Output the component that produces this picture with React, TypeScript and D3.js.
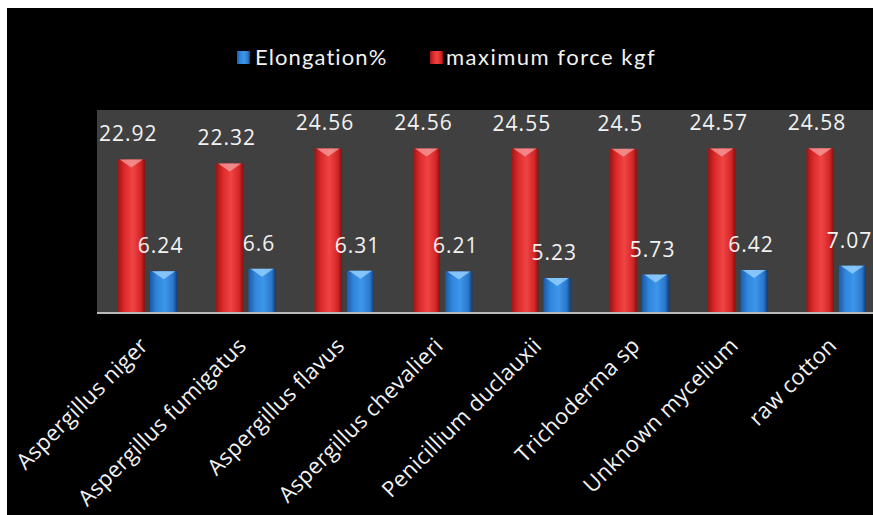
import React from "react";
import * as d3 from "d3";

const categories = [
  "Aspergillus niger",
  "Aspergillus fumigatus",
  "Aspergillus flavus",
  "Aspergillus chevalieri",
  "Penicillium duclauxii",
  "Trichoderma sp",
  "Unknown mycelium",
  "raw cotton",
];
const maxForce = [22.92, 22.32, 24.56, 24.56, 24.55, 24.5, 24.57, 24.58];
const elongation = [6.24, 6.6, 6.31, 6.21, 5.23, 5.73, 6.42, 7.07];
const seriesKeys = ["force", "elong"];

const W = 873;
const H = 515;
const plotLeft = 97;
const plotTop = 110;
const baseY = 313;
const step = 98.4;
const FONT = "'Open Sans', Lato, sans-serif";
const LEGEND_FONT = "Lato, 'Open Sans', sans-serif";

export default function App() {
  const x = d3
    .scaleBand<string>()
    .domain(categories)
    .range([plotLeft, plotLeft + step * categories.length])
    .padding(0);
  const inner = d3.scaleBand<string>().domain(seriesKeys).range([-28.5, 31]).paddingInner(0.16);
  const y = d3.scaleLinear().domain([0, 30]).range([baseY, 112]);
  const bw = inner.bandwidth();

  const series = [
    { key: "force", values: maxForce, grad: "gRed", cap: "#f4a0a0" },
    { key: "elong", values: elongation, grad: "gBlue", cap: "#9fd6ff" },
  ];

  return (
    <svg
      width={W}
      height={H}
      style={{ position: "absolute", left: 0, top: 0, display: "block" }}
    >
      <defs>
        <linearGradient id="gRed" x1="0" x2="1" y1="0" y2="0">
          <stop offset="0" stopColor="#9e1414" />
          <stop offset="0.25" stopColor="#dc2a2a" />
          <stop offset="0.55" stopColor="#f04444" />
          <stop offset="0.85" stopColor="#d42626" />
          <stop offset="1" stopColor="#8a1010" />
        </linearGradient>
        <linearGradient id="gBlue" x1="0" x2="1" y1="0" y2="0">
          <stop offset="0" stopColor="#1c5aa8" />
          <stop offset="0.25" stopColor="#2f86dc" />
          <stop offset="0.55" stopColor="#3e96ea" />
          <stop offset="0.85" stopColor="#2a78cc" />
          <stop offset="1" stopColor="#123c78" />
        </linearGradient>
        <clipPath id="clipAll">
          <rect x={7} y={8} width={W - 7} height={H - 8} />
        </clipPath>
      </defs>
      <rect x={0} y={0} width={W} height={H} fill="#ffffff" />
      <g clipPath="url(#clipAll)">
        <rect x={7} y={8} width={W - 7} height={H - 8} fill="#000000" />
        {/* plot area */}
        <rect x={plotLeft} y={plotTop} width={W - plotLeft} height={baseY - plotTop} fill="#404040" />

        {/* bars */}
        {series.map((s) =>
          categories.map((c, i) => {
            const cx = (x(c) as number) + x.bandwidth() / 2 + (inner(s.key) as number);
            const top = y(s.values[i]);
            return (
              <g key={s.key + c}>
                <rect x={cx} y={top} width={bw} height={baseY - top} fill={`url(#${s.grad})`} />
                <polygon
                  points={`${cx + 2},${top} ${cx + bw - 2},${top} ${cx + bw / 2},${top + 8}`}
                  fill={s.cap}
                  opacity={0.75}
                />
              </g>
            );
          })
        )}

        {/* baseline */}
        <line x1={plotLeft} x2={W} y1={baseY} y2={baseY} stroke="#b8b8b8" strokeWidth={2} />

        {/* value labels */}
        {series.map((s) =>
          categories.map((c, i) => {
            const cx = (x(c) as number) + x.bandwidth() / 2 + (inner(s.key) as number) + bw / 2;
            return (
              <text
                key={"v" + s.key + c}
                x={cx - 3}
                y={y(s.values[i]) - 18}
                textAnchor="middle"
                fill="#f2f2f2"
                fontFamily={FONT}
                fontSize={21}
                letterSpacing={1}
              >
                {String(s.values[i])}
              </text>
            );
          })
        )}

        {/* category labels */}
        {categories.map((c) => {
          const gx = (x(c) as number) + x.bandwidth() / 2 + 3;
          const gy = 347;
          return (
            <text
              key={"c" + c}
              x={gx}
              y={gy}
              transform={`rotate(-45 ${gx} ${gy})`}
              textAnchor="end"
              fill="#f2f2f2"
              fontFamily={FONT}
              fontSize={22}
              letterSpacing={0.3}
            >
              {c}
            </text>
          );
        })}

        {/* legend */}
        <rect x={237} y={51} width={13} height={13} fill="url(#gBlue)" />
        <text x={255} y={65} fill="#f2f2f2" fontFamily={LEGEND_FONT} fontSize={22} letterSpacing={1.1}>
          Elongation%
        </text>
        <rect x={430} y={51} width={13} height={13} fill="url(#gRed)" />
        <text x={446} y={65} fill="#f2f2f2" fontFamily={LEGEND_FONT} fontSize={22} letterSpacing={1.5}>
          maximum force kgf
        </text>
      </g>
    </svg>
  );
}
